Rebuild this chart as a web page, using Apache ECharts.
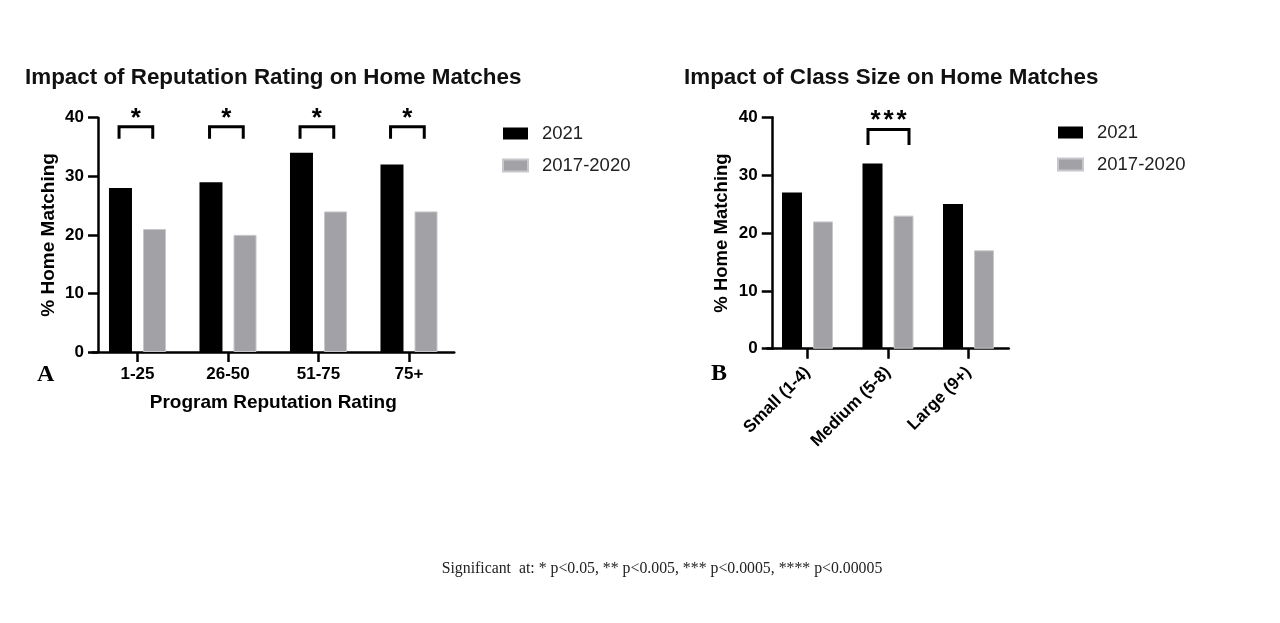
<!DOCTYPE html>
<html>
<head>
<meta charset="utf-8">
<script src="https://cdn.jsdelivr.net/npm/echarts@6/dist/echarts.min.js"></script>
<style>
html,body{margin:0;padding:0;background:#fff;}
#chart{width:1280px;height:623px;}
</style>
</head>
<body>
<div id="chart"></div>
<script>
// ---- data ----
const seriesNames = ['2021', '2017-2020'];
const catsA = ['1-25', '26-50', '51-75', '75+'];
const valsA2021 = [28, 29, 34, 32];
const valsA1720 = [21, 20, 24, 24];
const sigA = ['*', '*', '*', '*'];
const catsB = ['Small (1-4)', 'Medium (5-8)', 'Large (9+)'];
const valsB2021 = [27, 32, 25];
const valsB1720 = [22, 23, 17];
const sigB = ['', '***', ''];
const yTicks = [0, 10, 20, 30, 40];
// bracket heights in data units: [top, legBottom, starCenter]
const bracketA = [38.45, 36.4, 40.8];
const bracketB = [37.9, 35.2, 40.4];

const FONT = 'Liberation Sans, Arial, sans-serif';
const SERIF = 'Liberation Serif, Times New Roman, serif';
const BLACK = '#000000';
const GRAY = '#a2a2a6';

function sigData(sig, br) {
  const out = [];
  sig.forEach((s, i) => { if (s) out.push([i, br[0], br[1], br[2]]); });
  return out;
}

function bracketRenderer(sig, halfW, shift, starStep) {
  return function (params, api) {
    const idx = api.value(0);
    const top = api.coord([idx, api.value(1)]);
    const leg = api.coord([idx, api.value(2)]);
    const st = api.coord([idx, api.value(3)]);
    const cx = top[0] + shift;
    const label = sig[idx];
    const n = label.length;
    const children = [{
      type: 'polyline',
      shape: { points: [[cx - halfW, leg[1]], [cx - halfW, top[1]], [cx + halfW, top[1]], [cx + halfW, leg[1]]] },
      style: { stroke: '#000', lineWidth: 3, fill: null }
    }];
    for (let k = 0; k < n; k++) {
      children.push({
        type: 'text',
        x: cx + (k - (n - 1) / 2) * starStep,
        y: st[1] + 6,
        style: { text: label[k], fill: '#000', font: 'bold 26px ' + FONT, align: 'center', verticalAlign: 'middle' }
      });
    }
    return { type: 'group', children: children };
  };
}

const axisLineStyle = { color: '#000', width: 2.5 };

function yAxisCfg(gridIndex, offset, nameSize) {
  return {
    type: 'value', gridIndex: gridIndex, min: yTicks[0], max: yTicks[yTicks.length - 1], interval: 10,
    offset: offset,
    name: '% Home Matching', nameLocation: 'middle', nameGap: 40,
    nameTextStyle: { fontFamily: FONT, fontWeight: 'bold', fontSize: nameSize, color: '#000' },
    axisLine: { show: true, lineStyle: axisLineStyle },
    axisTick: { show: true, length: 10, lineStyle: axisLineStyle },
    axisLabel: { fontFamily: FONT, fontWeight: 'bold', fontSize: 17, color: '#000', margin: 14 },
    splitLine: { show: false }
  };
}

const chart = echarts.init(document.getElementById('chart'));
chart.setOption({
  animation: false,
  backgroundColor: '#fff',
  title: [
    { text: 'Impact of Reputation Rating on Home Matches', left: 25, top: 67, padding: 0,
      textStyle: { fontFamily: FONT, fontWeight: 'bold', fontSize: 22.4, color: '#111' } },
    { text: 'Impact of Class Size on Home Matches', left: 684, top: 67, padding: 0,
      textStyle: { fontFamily: FONT, fontWeight: 'bold', fontSize: 22.4, color: '#111' } }
  ],
  legend: [
    { data: seriesNames, orient: 'vertical', left: 502, top: 124, padding: 0, itemGap: 13,
      itemWidth: 25, itemHeight: 12, icon: 'rect', selectedMode: false,
      textStyle: { fontFamily: FONT, fontSize: 18.5, color: '#222', padding: [0, 0, 0, 9] } },
    { data: seriesNames, orient: 'vertical', left: 1057, top: 123, padding: 0, itemGap: 13,
      itemWidth: 25, itemHeight: 12, icon: 'rect', selectedMode: false,
      textStyle: { fontFamily: FONT, fontSize: 18.5, color: '#222', padding: [0, 0, 0, 9] } }
  ],
  grid: [
    { left: 92.25, width: 362, top: 117.7, height: 234.3, containLabel: false },
    { left: 767.25, width: 241.5, top: 117.3, height: 231.4, containLabel: false }
  ],
  xAxis: [
    { type: 'category', gridIndex: 0, data: catsA,
      name: 'Program Reputation Rating', nameLocation: 'middle', nameGap: 41,
      nameTextStyle: { fontFamily: FONT, fontWeight: 'bold', fontSize: 19, color: '#000' },
      axisLine: { show: true, lineStyle: axisLineStyle },
      axisTick: { show: true, alignWithLabel: true, length: 10, lineStyle: axisLineStyle },
      axisLabel: { fontFamily: FONT, fontWeight: 'bold', fontSize: 17, color: '#000', margin: 14, interval: 0 },
      splitLine: { show: false } },
    { type: 'category', gridIndex: 1, data: catsB,
      axisLine: { show: true, lineStyle: axisLineStyle },
      axisTick: { show: true, alignWithLabel: true, length: 10, lineStyle: axisLineStyle },
      axisLabel: { fontFamily: FONT, fontWeight: 'bold', fontSize: 17, color: '#000', margin: 21, rotate: 45, interval: 0 },
      splitLine: { show: false } }
  ],
  yAxis: [yAxisCfg(0, -5.75, 19), yAxisCfg(1, -4.5, 18.5)],
  series: [
    { name: seriesNames[0], type: 'bar', xAxisIndex: 0, yAxisIndex: 0, data: valsA2021,
      barWidth: 23, barGap: '48%', itemStyle: { color: BLACK } },
    { name: seriesNames[1], type: 'bar', xAxisIndex: 0, yAxisIndex: 0, data: valsA1720,
      barWidth: 23, barGap: '48%', itemStyle: { color: GRAY, borderColor: '#c8c8cc', borderWidth: 1 } },
    { name: seriesNames[0], type: 'bar', xAxisIndex: 1, yAxisIndex: 1, data: valsB2021,
      barWidth: 20, barGap: '55%', itemStyle: { color: BLACK } },
    { name: seriesNames[1], type: 'bar', xAxisIndex: 1, yAxisIndex: 1, data: valsB1720,
      barWidth: 20, barGap: '55%', itemStyle: { color: GRAY, borderColor: '#c8c8cc', borderWidth: 1 } },
    { type: 'custom', xAxisIndex: 0, yAxisIndex: 0, data: sigData(sigA, bracketA), z: 5,
      encode: { x: 0, y: 1 }, renderItem: bracketRenderer(sigA, 16.85, -1.6, 13) },
    { type: 'custom', xAxisIndex: 1, yAxisIndex: 1, data: sigData(sigB, bracketB), z: 5,
      encode: { x: 0, y: 1 }, renderItem: bracketRenderer(sigB, 20.5, 0.5, 13) }
  ],
  graphic: [
    { type: 'text', left: 37, top: 363, style: { text: 'A', font: 'bold 24px ' + SERIF, fill: '#000' } },
    { type: 'text', left: 711, top: 362, style: { text: 'B', font: 'bold 24px ' + SERIF, fill: '#000' } },
    { type: 'text', x: 662, y: 569, style: { text: 'Significant  at: * p<0.05, ** p<0.005, *** p<0.0005, **** p<0.00005',
      font: '15.8px ' + SERIF, fill: '#222', align: 'center', verticalAlign: 'middle' } }
  ]
});
</script>
</body>
</html>
